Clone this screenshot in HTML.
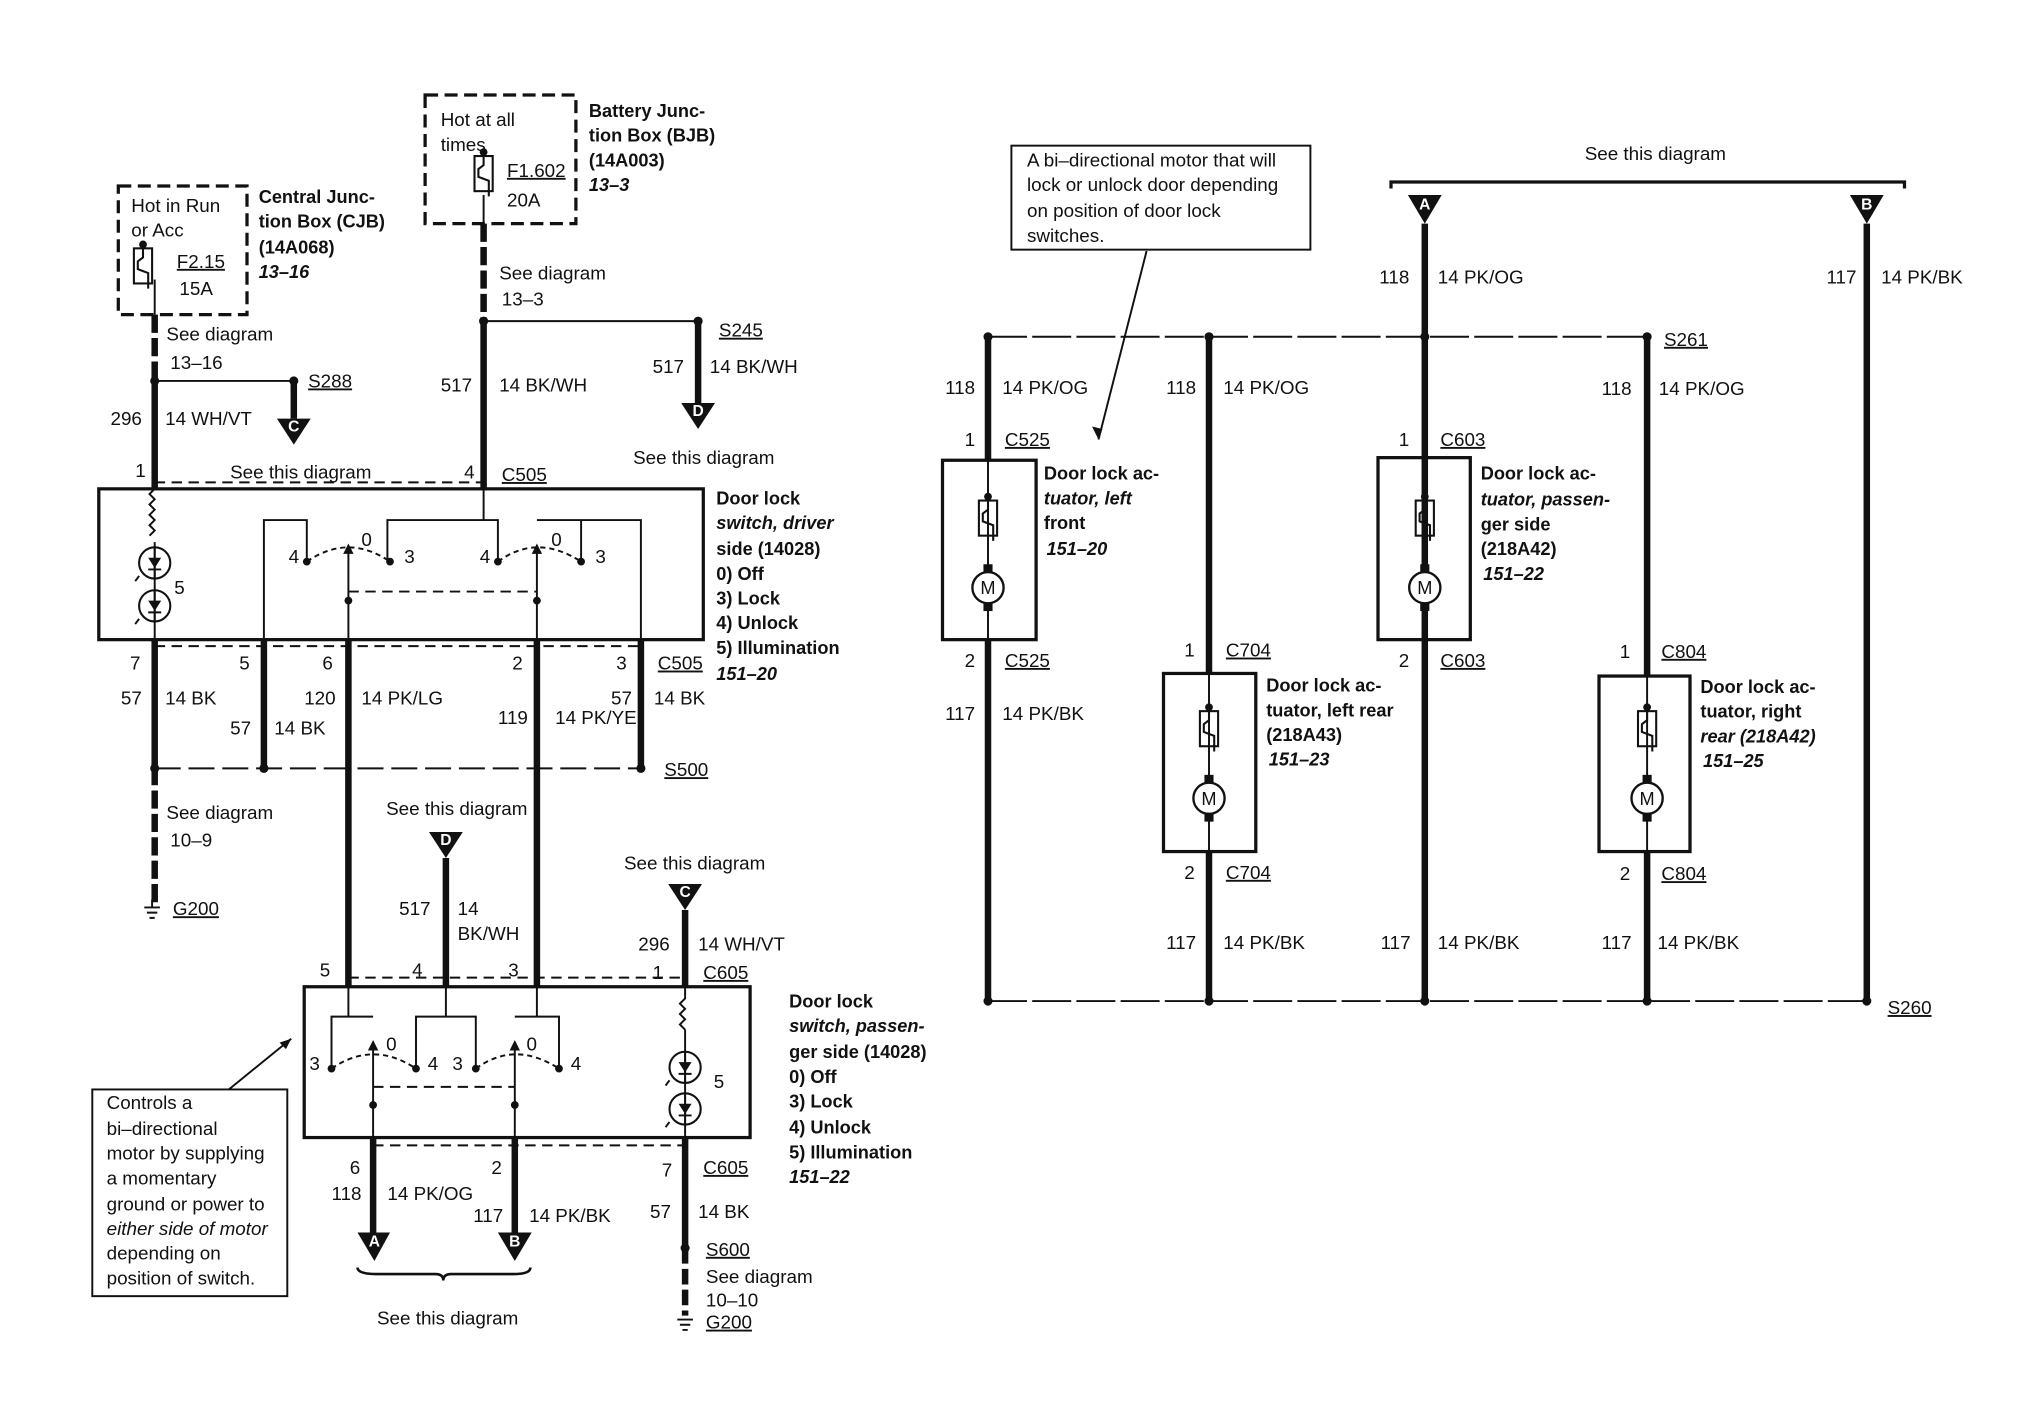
<!DOCTYPE html>
<html><head><meta charset="utf-8"><style>
html,body{margin:0;padding:0;background:#fff;}
svg{display:block;}
text{font-family:"Liberation Sans",sans-serif;font-size:14.5px;fill:#111;}
.b{font-weight:bold;font-size:14px;}
.i{font-style:italic;font-weight:bold;font-size:14px;}
.w{fill:#fff;font-weight:bold;font-size:12px;}
.u{text-decoration:underline;}
</style></head><body>
<svg width="2028" height="1408" viewBox="0 0 1560 1083" xmlns="http://www.w3.org/2000/svg">
<defs>
<g id="fuse"><rect x="-7" y="0" width="14" height="27" fill="none" stroke="#111" stroke-width="1.6"/><path d="M0,-4 V7 L-4,10 V16 L4,19 V31" fill="none" stroke="#111" stroke-width="1.6"/><circle cx="0" cy="-3" r="3" fill="#111"/></g>
<g id="motor"><rect x="-3.5" y="-18" width="7" height="7" fill="#111"/><rect x="-3.5" y="11" width="7" height="7" fill="#111"/><circle r="12" fill="#fff" stroke="#111" stroke-width="1.8"/><text x="0" y="5" text-anchor="middle" style="font-size:14px">M</text></g>
<g id="led"><circle r="12" fill="none" stroke="#111" stroke-width="1.6"/><path d="M-5,-4 H5 L0,4 Z" fill="#111"/><path d="M-5,5 H5 M0,-12 V12" stroke="#111" stroke-width="1.5"/><path d="M-12,10 l-3,4" stroke="#111" stroke-width="1.5"/></g>
</defs>
<g stroke="#111" fill="none">
<rect x="91" y="143" width="99" height="99" stroke-width="2.5" stroke-dasharray="10,5"/>
<rect x="327" y="73" width="116" height="99" stroke-width="2.5" stroke-dasharray="10,5"/>
<path d="M119,215 V242" stroke-width="1.5"/>
<path d="M119,242 V293" stroke-width="5" stroke-dasharray="14,4"/>
<path d="M119,293 V376" stroke-width="5"/>
<path d="M119,293 H226" stroke-width="1.5"/>
<path d="M226,293 V322" stroke-width="5"/>
<path d="M372,150 V172" stroke-width="1.5"/>
<path d="M372,172 V247" stroke-width="5" stroke-dasharray="14,4"/>
<path d="M372,247 V376" stroke-width="5"/>
<path d="M372,247 H537" stroke-width="1.5"/>
<path d="M537,247 V312" stroke-width="5"/>
<path d="M119,371 H372" stroke-width="1.5" stroke-dasharray="8,5"/>
<rect x="76" y="376" width="465" height="116" stroke-width="2.5"/>
<path d="M119,376 l-4,4 4,4 -4,4 4,4 -4,4 4,4 -4,4 4,4 -4,4 M119,417 V492" stroke-width="1.5"/>
<path d="M203,492 V400 H236 V430 M298,430 V400 H383 V430 M372,376 V400 M413,400 H493 V492 M447,400 V430" stroke-width="1.5"/>
<path d="M268,492 V424 M413,492 V424" stroke-width="1.5"/>
<path d="M236,432 Q268,410 300,432 M383,432 Q413,410 447,432" stroke-width="1.5" stroke-dasharray="4,3"/>
<path d="M268,455 H413" stroke-width="1.5" stroke-dasharray="8,5"/>
<path d="M119,497 H493" stroke-width="1.5" stroke-dasharray="8,5"/>
<path d="M119,492 V590 M203,492 V590 M493,492 V590 M268,492 V758 M413,492 V758" stroke-width="5"/>
<path d="M119,590 V694" stroke-width="5" stroke-dasharray="14,4"/>
<path d="M119,591 H493" stroke-width="1.5" stroke-dasharray="20,6"/>
<path d="M343,660 V758 M527,700 V758" stroke-width="5"/>
<path d="M268,752 H527" stroke-width="1.5" stroke-dasharray="8,5"/>
<rect x="234" y="759" width="343" height="116" stroke-width="2.5"/>
<path d="M268,752 V782 M255,820 V782 H287 M343,752 V782 M320,820 V782 H366 V820 M413,752 V782 M396,782 H430 V820" stroke-width="1.5"/>
<path d="M287,875 V806 M396,875 V806" stroke-width="1.5"/>
<path d="M255,822 Q287,800 320,822 M366,822 Q396,800 430,822" stroke-width="1.5" stroke-dasharray="4,3"/>
<path d="M287,836 H396" stroke-width="1.5" stroke-dasharray="8,5"/>
<path d="M527,759 V768 l-4,4 4,4 -4,4 4,4 -4,4 4,4 M527,792 V875" stroke-width="1.5"/>
<path d="M287,881 H527" stroke-width="1.5" stroke-dasharray="8,5"/>
<path d="M287,875 V950 M396,875 V950 M527,875 V960" stroke-width="5"/>
<path d="M527,960 V1012" stroke-width="5" stroke-dasharray="12,4"/>
<path d="M275,975 Q275,980 290,980 H335 Q341,980 341,985 Q341,980 347,980 H395 Q408,980 408,975" stroke-width="2"/>
<rect x="71" y="838" width="150" height="159" stroke-width="1.5"/>
<path d="M176,838 L224,799" stroke-width="1.5"/>
<rect x="778" y="112" width="230" height="80" stroke-width="1.5"/>
<path d="M882,193 L845,338" stroke-width="1.5"/>
<path d="M1070,145 V140 H1465 V145" stroke-width="2.5"/>
<path d="M1096,172 V770 M1436,172 V770" stroke-width="5"/>
<path d="M760,259 H1267" stroke-width="1.5" stroke-dasharray="30,4"/>
<path d="M760,770 H1436" stroke-width="1.5" stroke-dasharray="30,4"/>
<path d="M760,259 V354 M760,492 V770 M930,259 V518 M930,655 V770 M1267,259 V520 M1267,655 V770" stroke-width="5"/>
<rect x="725" y="354" width="72" height="138" stroke-width="2.5"/>
<rect x="895" y="518" width="71" height="137" stroke-width="2.5"/>
<rect x="1060" y="352" width="71" height="140" stroke-width="2.5"/>
<rect x="1230" y="520" width="70" height="135" stroke-width="2.5"/>
<path d="M760,354 V492 M930,518 V655 M1096,352 V492 M1267,520 V655" stroke-width="1.5"/>
</g>
<g fill="#111">
<path d="M213,322 H239 L226,342 Z"/><path d="M524,310 H550 L537,330 Z"/>
<path d="M330,640 H356 L343,660 Z"/><path d="M514,680 H540 L527,700 Z"/>
<path d="M275,948 H300 L288,970 Z"/><path d="M383,948 H409 L396,970 Z"/>
<path d="M1083,150 H1109 L1096,172 Z"/><path d="M1423,150 H1449 L1436,172 Z"/>
<path d="M224,799 l-9,3 5,5 Z"/><path d="M845,338 l-5,-10 8,2 Z"/>
<path d="M264,426 l4,-8 4,8Z"/><path d="M409,426 l4,-8 4,8Z"/>
<path d="M283,808 l4,-8 4,8Z"/><path d="M392,808 l4,-8 4,8Z"/>
<circle cx="119" cy="293" r="3.5"/><circle cx="226" cy="293" r="3.5"/>
<circle cx="372" cy="247" r="3.5"/><circle cx="537" cy="247" r="3.5"/>
<circle cx="236" cy="432" r="3"/><circle cx="300" cy="432" r="3"/><circle cx="383" cy="432" r="3"/><circle cx="447" cy="432" r="3"/>
<circle cx="268" cy="462" r="3"/><circle cx="413" cy="462" r="3"/>
<circle cx="119" cy="591" r="3.5"/><circle cx="203" cy="591" r="3.5"/><circle cx="493" cy="591" r="3.5"/>
<circle cx="255" cy="822" r="3"/><circle cx="320" cy="822" r="3"/><circle cx="366" cy="822" r="3"/><circle cx="430" cy="822" r="3"/>
<circle cx="287" cy="850" r="3"/><circle cx="396" cy="850" r="3"/>
<circle cx="527" cy="960" r="3.5"/>
<circle cx="760" cy="259" r="3.5"/><circle cx="930" cy="259" r="3.5"/><circle cx="1096" cy="259" r="3.5"/><circle cx="1267" cy="259" r="3.5"/>
<circle cx="760" cy="770" r="3.5"/><circle cx="930" cy="770" r="3.5"/><circle cx="1096" cy="770" r="3.5"/><circle cx="1267" cy="770" r="3.5"/><circle cx="1436" cy="770" r="3.5"/>
</g>
<g stroke="#111" stroke-width="1.5">
<path d="M111,698 h12 M113,702 h8 M115,706 h4 M117,692 v6"/>
<path d="M521,1015 h12 M523,1019 h8 M525,1023 h4"/>
</g>
<use href="#fuse" x="110" y="191"/><use href="#fuse" x="372" y="120"/>
<use href="#led" x="119" y="433"/><use href="#led" x="119" y="466"/>
<use href="#led" x="527" y="821"/><use href="#led" x="527" y="853"/>
<use href="#fuse" x="760" y="385"/><use href="#motor" x="760" y="452"/>
<use href="#fuse" x="930" y="547"/><use href="#motor" x="930" y="614"/>
<use href="#fuse" x="1096" y="385"/><use href="#motor" x="1096" y="452"/>
<use href="#fuse" x="1267" y="547"/><use href="#motor" x="1267" y="614"/>
<g>
<text class="w" x="226" y="332" text-anchor="middle">C</text><text class="w" x="537" y="320" text-anchor="middle">D</text>
<text class="w" x="343" y="650" text-anchor="middle">D</text><text class="w" x="527" y="690" text-anchor="middle">C</text>
<text class="w" x="288" y="959" text-anchor="middle">A</text><text class="w" x="396" y="959" text-anchor="middle">B</text>
<text class="w" x="1096" y="161" text-anchor="middle">A</text><text class="w" x="1436" y="161" text-anchor="middle">B</text>
</g>
<g>
<text x="101" y="163">Hot in Run</text><text x="101" y="182">or Acc</text>
<text x="136" y="206" class="u">F2.15</text><text x="138" y="227">15A</text>
<text class="b" x="199" y="156">Central Junc-</text><text class="b" x="199" y="175">tion Box (CJB)</text><text class="b" x="199" y="195">(14A068)</text><text class="i" x="199" y="214">13–16</text>
<text x="339" y="97">Hot at all</text><text x="339" y="116">times</text>
<text x="390" y="136" class="u">F1.602</text><text x="390" y="159">20A</text>
<text class="b" x="453" y="90">Battery Junc-</text><text class="b" x="453" y="109">tion Box (BJB)</text><text class="b" x="453" y="128">(14A003)</text><text class="i" x="453" y="147">13–3</text>
<text x="128" y="262">See diagram</text><text x="131" y="284">13–16</text>
<text x="384" y="215">See diagram</text><text x="386" y="235">13–3</text>
<text x="237" y="298" class="u">S288</text><text x="553" y="259" class="u">S245</text>
<text x="85" y="327">296</text><text x="127" y="327">14 WH/VT</text>
<text x="339" y="301">517</text><text x="384" y="301">14 BK/WH</text>
<text x="502" y="287">517</text><text x="546" y="287">14 BK/WH</text>
<text x="487" y="357">See this diagram</text>
<text x="104" y="367">1</text><text x="177" y="368">See this diagram</text><text x="357" y="368">4</text><text x="386" y="370" class="u">C505</text>
<text x="222" y="433">4</text><text x="278" y="420">0</text><text x="311" y="433">3</text><text x="369" y="433">4</text><text x="424" y="420">0</text><text x="458" y="433">3</text><text x="134" y="457">5</text>
<text class="b" x="551" y="388">Door lock</text><text class="i" x="551" y="407">switch, driver</text><text class="b" x="551" y="427">side (14028)</text>
<text class="b" x="551" y="446">0)   Off</text><text class="b" x="551" y="465">3)   Lock</text><text class="b" x="551" y="484">4)   Unlock</text><text class="b" x="551" y="503">5)   Illumination</text><text class="i" x="551" y="523">151–20</text>
<text x="100" y="515">7</text><text x="184" y="515">5</text><text x="248" y="515">6</text><text x="394" y="515">2</text><text x="474" y="515">3</text><text x="506" y="515" class="u">C505</text>
<text x="93" y="542">57</text><text x="127" y="542">14 BK</text><text x="234" y="542">120</text><text x="278" y="542">14 PK/LG</text><text x="470" y="542">57</text><text x="503" y="542">14 BK</text>
<text x="177" y="565">57</text><text x="211" y="565">14 BK</text><text x="383" y="557">119</text><text x="427" y="557">14 PK/YE</text>
<text x="511" y="597" class="u">S500</text>
<text x="128" y="630">See diagram</text><text x="131" y="651">10–9</text><text x="133" y="704" class="u">G200</text>
<text x="297" y="627">See this diagram</text><text x="480" y="669">See this diagram</text>
<text x="307" y="704">517</text><text x="352" y="704">14</text><text x="352" y="723">BK/WH</text>
<text x="491" y="731">296</text><text x="537" y="731">14 WH/VT</text>
<text x="246" y="751">5</text><text x="317" y="751">4</text><text x="391" y="751">3</text><text x="502" y="753">1</text><text x="541" y="753" class="u">C605</text>
<text x="238" y="823">3</text><text x="297" y="808">0</text><text x="329" y="823">4</text><text x="348" y="823">3</text><text x="405" y="808">0</text><text x="439" y="823">4</text><text x="549" y="837">5</text>
<text class="b" x="607" y="775">Door lock</text><text class="i" x="607" y="794">switch, passen-</text><text class="b" x="607" y="814">ger side (14028)</text>
<text class="b" x="607" y="833">0)   Off</text><text class="b" x="607" y="852">3)   Lock</text><text class="b" x="607" y="872">4)   Unlock</text><text class="b" x="607" y="891">5)   Illumination</text><text class="i" x="607" y="910">151–22</text>
<text x="269" y="903">6</text><text x="378" y="903">2</text><text x="509" y="905">7</text><text x="541" y="903" class="u">C605</text>
<text x="255" y="923">118</text><text x="298" y="923">14 PK/OG</text><text x="364" y="940">117</text><text x="407" y="940">14 PK/BK</text>
<text x="500" y="937">57</text><text x="537" y="937">14 BK</text>
<text x="543" y="966" class="u">S600</text><text x="543" y="987">See diagram</text><text x="543" y="1005">10–10</text><text x="543" y="1022" class="u">G200</text>
<text x="290" y="1019">See this diagram</text>
<g style="font-size:13.5px"><text x="82" y="853">Controls a</text><text x="82" y="873">bi–directional</text><text x="82" y="892">motor by supplying</text><text x="82" y="911">a momentary</text><text x="82" y="931">ground or power to</text><text x="82" y="950" font-style="italic">either side of motor</text><text x="82" y="969">depending on</text><text x="82" y="988">position of switch.</text>
<text x="790" y="128">A bi–directional motor that will</text><text x="790" y="147">lock or unlock door depending</text><text x="790" y="167">on position of door lock</text><text x="790" y="186">switches.</text></g>
<text x="1219" y="123">See this diagram</text>
<text x="1061" y="218">118</text><text x="1106" y="218">14 PK/OG</text><text x="1405" y="218">117</text><text x="1447" y="218">14 PK/BK</text>
<text x="1280" y="266" class="u">S261</text>
<text x="727" y="303">118</text><text x="771" y="303">14 PK/OG</text><text x="897" y="303">118</text><text x="941" y="303">14 PK/OG</text><text x="1232" y="304">118</text><text x="1276" y="304">14 PK/OG</text>
<text x="742" y="343">1</text><text x="773" y="343" class="u">C525</text><text x="1076" y="343">1</text><text x="1108" y="343" class="u">C603</text>
<text class="b" x="803" y="369">Door lock ac-</text><text class="i" x="803" y="388">tuator, left</text><text class="b" x="803" y="407">front</text><text class="i" x="805" y="427">151–20</text>
<text class="b" x="1139" y="369">Door lock ac-</text><text class="i" x="1139" y="389">tuator, passen-</text><text class="b" x="1139" y="408">ger side</text><text class="b" x="1139" y="427">(218A42)</text><text class="i" x="1141" y="446">151–22</text>
<text x="742" y="513">2</text><text x="773" y="513" class="u">C525</text><text x="1076" y="513">2</text><text x="1108" y="513" class="u">C603</text>
<text x="727" y="554">117</text><text x="771" y="554">14 PK/BK</text>
<text x="911" y="505">1</text><text x="943" y="505" class="u">C704</text><text x="1246" y="506">1</text><text x="1278" y="506" class="u">C804</text>
<text class="b" x="974" y="532">Door lock ac-</text><text class="b" x="974" y="551">tuator, left rear</text><text class="b" x="974" y="570">(218A43)</text><text class="i" x="976" y="589">151–23</text>
<text class="b" x="1308" y="533">Door lock ac-</text><text class="b" x="1308" y="552">tuator, right</text><text class="i" x="1308" y="571">rear (218A42)</text><text class="i" x="1310" y="590">151–25</text>
<text x="911" y="676">2</text><text x="943" y="676" class="u">C704</text><text x="1246" y="677">2</text><text x="1278" y="677" class="u">C804</text>
<text x="897" y="730">117</text><text x="941" y="730">14 PK/BK</text><text x="1062" y="730">117</text><text x="1106" y="730">14 PK/BK</text><text x="1232" y="730">117</text><text x="1275" y="730">14 PK/BK</text>
<text x="1452" y="780" class="u">S260</text>
</g>
</svg>
</body></html>
